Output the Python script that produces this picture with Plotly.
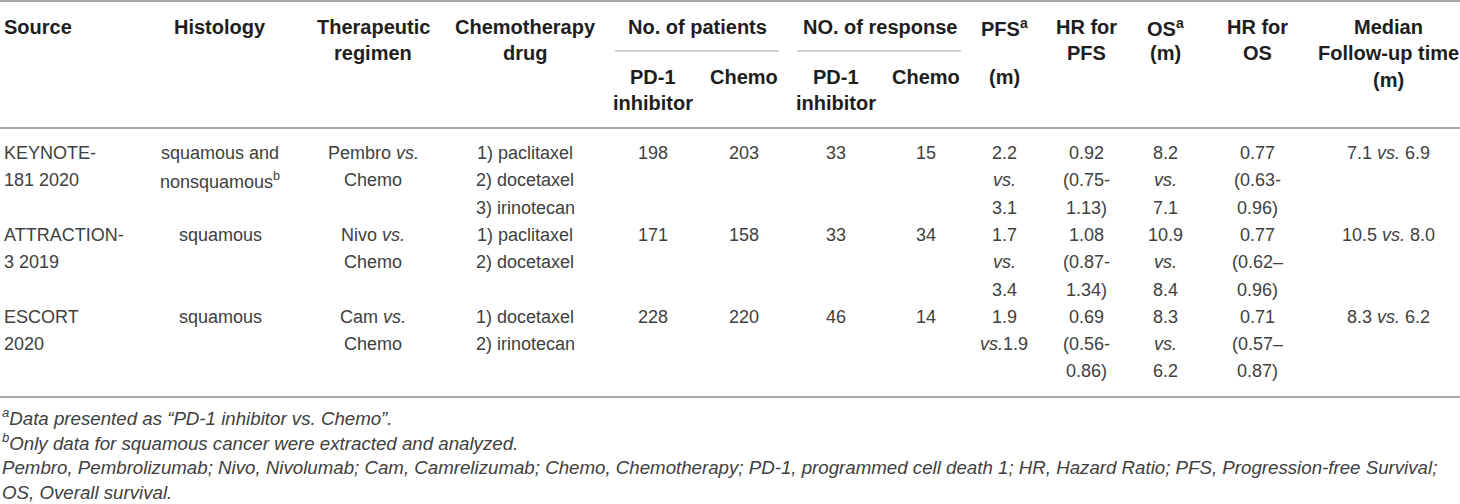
import plotly.graph_objects as go

# table content
sources = [["KEYNOTE-", "181 2020"], ["ATTRACTION-", "3 2019"], ["ESCORT", "2020"]]
histology = [["squamous and", "nonsquamous<sup>b</sup>"], ["squamous"], ["squamous"]]
regimens = [["Pembro <i>vs.</i>", "Chemo"], ["Nivo <i>vs.</i>", "Chemo"], ["Cam <i>vs.</i>", "Chemo"]]
drugs = [["1) paclitaxel", "2) docetaxel", "3) irinotecan"],
         ["1) paclitaxel", "2) docetaxel"],
         ["1) docetaxel", "2) irinotecan"]]
patients_pd1 = [198, 171, 228]
patients_chemo = [203, 158, 220]
response_pd1 = [33, 33, 46]
response_chemo = [15, 34, 14]
pfs = [["2.2", "<i>vs.</i>", "3.1"], ["1.7", "<i>vs.</i>", "3.4"], ["1.9", "<i>vs.</i>1.9"]]
hr_pfs = [["0.92", "(0.75-", "1.13)"], ["1.08", "(0.87-", "1.34)"], ["0.69", "(0.56-", "0.86)"]]
os_m = [["8.2", "<i>vs.</i>", "7.1"], ["10.9", "<i>vs.</i>", "8.4"], ["8.3", "<i>vs.</i>", "6.2"]]
hr_os = [["0.77", "(0.63-", "0.96)"], ["0.77", "(0.62–", "0.96)"], ["0.71", "(0.57–", "0.87)"]]
follow_up = ["7.1 <i>vs.</i> 6.9", "10.5 <i>vs.</i> 8.0", "8.3 <i>vs.</i> 6.2"]

footnotes = [
    "<sup>a</sup>Data presented as “PD-1 inhibitor vs. Chemo”.",
    "<sup>b</sup>Only data for squamous cancer were extracted and analyzed.",
    "Pembro, Pembrolizumab; Nivo, Nivolumab; Cam, Camrelizumab; Chemo, Chemotherapy; "
    "PD-1, programmed cell death 1; HR, Hazard Ratio; PFS, Progression-free Survival;",
    "OS, Overall survival.",
]

W, H = 1460, 504
FONT = "Liberation Sans, Arial, sans-serif"
TXT = "#404040"
HEAD = "#1e1e1e"
RULE = "#a8a8a8"

# column centres (px)
cx = dict(hist=220, reg=373, drug=525, ppd1=653, pchemo=744, pgrp=697,
          rpd1=836, rchemo=926, rgrp=880, pfs=1004, hrpfs=1086, os=1165,
          hros=1257, med=1388)

fig = go.Figure()
ann = []


def put(x, y, text, bold=False, size=18, anchor="center", italic=False):
    t = f"<b>{text}</b>" if bold else text
    if italic:
        t = f"<i>{t}</i>"
    ann.append(dict(x=x, y=y, xref="x", yref="y", text=t, showarrow=False,
                    xanchor=anchor, yanchor="middle",
                    font=dict(family=FONT, size=size, color=HEAD if bold else TXT)))


# header
h1, h2, h3 = 27, 53, 80
s1, s2 = 77, 103
hs = 20
put(2, h1, "Source", True, hs, "left")
put(cx["hist"], h1, "Histology", True, hs)
put(cx["reg"], h1, "Therapeutic", True, hs)
put(cx["reg"], h2, "regimen", True, hs)
put(cx["drug"], h1, "Chemotherapy", True, hs)
put(cx["drug"], h2, "drug", True, hs)
put(cx["pgrp"], h1, "No. of patients", True, hs)
put(cx["ppd1"], s1, "PD-1", True, hs)
put(cx["ppd1"], s2, "inhibitor", True, hs)
put(cx["pchemo"], s1, "Chemo", True, hs)
put(cx["rgrp"], h1, "NO. of response", True, hs)
put(cx["rpd1"], s1, "PD-1", True, hs)
put(cx["rpd1"], s2, "inhibitor", True, hs)
put(cx["rchemo"], s1, "Chemo", True, hs)
put(cx["pfs"], h1, "PFS<sup>a</sup>", True, hs)
put(cx["pfs"], s1, "(m)", True, hs)
put(cx["hrpfs"], h1, "HR for", True, hs)
put(cx["hrpfs"], h2, "PFS", True, hs)
put(cx["os"], h1, "OS<sup>a</sup>", True, hs)
put(cx["os"], h2, "(m)", True, hs)
put(cx["hros"], h1, "HR for", True, hs)
put(cx["hros"], h2, "OS", True, hs)
put(cx["med"], h1, "Median", True, hs)
put(cx["med"], h2, "Follow-up time", True, hs)
put(cx["med"], h3, "(m)", True, hs)

# body
top, lh = 153, 27.3
for r in range(3):
    y0 = top + r * 3 * lh

    def lines(x, items, anchor="center"):
        for i, t in enumerate(items):
            put(x, y0 + i * lh, t, anchor=anchor)

    lines(2, sources[r], "left")
    lines(cx["hist"], histology[r])
    lines(cx["reg"], regimens[r])
    lines(cx["drug"], drugs[r])
    put(cx["ppd1"], y0, str(patients_pd1[r]))
    put(cx["pchemo"], y0, str(patients_chemo[r]))
    put(cx["rpd1"], y0, str(response_pd1[r]))
    put(cx["rchemo"], y0, str(response_chemo[r]))
    lines(cx["pfs"], pfs[r])
    lines(cx["hrpfs"], hr_pfs[r])
    lines(cx["os"], os_m[r])
    lines(cx["hros"], hr_os[r])
    put(cx["med"], y0, follow_up[r])

# footnotes
for i, t in enumerate(footnotes):
    put(0, 417 + i * 25.3, t, size=18.7, anchor="left", italic=True)

shapes = [
    dict(type="line", x0=0, x1=W, y0=1, y1=1, line=dict(color=RULE, width=2)),
    dict(type="line", x0=0, x1=W, y0=128, y1=128, line=dict(color=RULE, width=2)),
    dict(type="line", x0=0, x1=W, y0=397, y1=397, line=dict(color=RULE, width=2)),
    dict(type="line", x0=615, x1=779, y0=51, y1=51, line=dict(color=RULE, width=1.2)),
    dict(type="line", x0=797, x1=961, y0=51, y1=51, line=dict(color=RULE, width=1.2)),
]
for s in shapes:
    s.update(xref="x", yref="y", layer="above")

fig.update_layout(
    width=W, height=H,
    margin=dict(l=0, r=0, t=0, b=0),
    paper_bgcolor="white", plot_bgcolor="white",
    xaxis=dict(range=[0, W], visible=False, fixedrange=True),
    yaxis=dict(range=[H, 0], visible=False, fixedrange=True),
    annotations=ann, shapes=shapes, showlegend=False,
)

# page margin off so the figure sits at the window's top-left corner
fig.write_html("out.html", config={"displayModeBar": False},
               post_script="document.body.style.margin='0';document.body.style.overflow='hidden';")
